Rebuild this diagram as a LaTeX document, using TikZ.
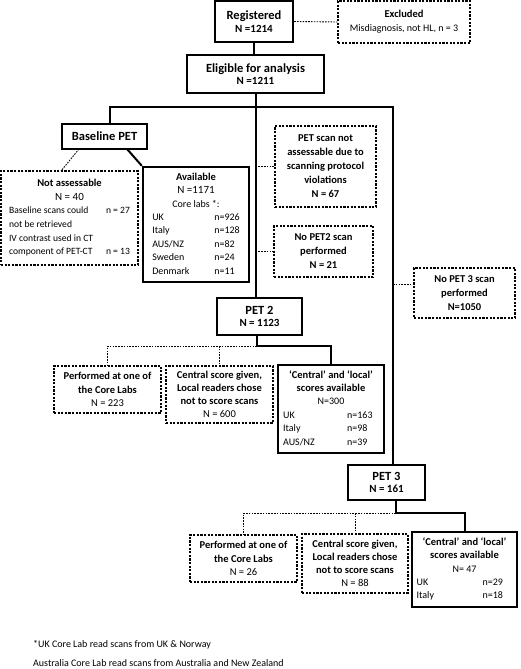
\documentclass[tikz,border=0pt]{standalone}
\usepackage{fontspec}
\setmainfont{Carlito}
\usepackage{array}
\begin{document}
\begin{tikzpicture}[x=1pt,y=-1pt,
  sbox/.style={draw, line width=2.4pt, inner sep=0pt, align=center, font=\fontsize{10}{13.4}\selectfont},
  dbox/.style={draw, line width=1.1pt, dash pattern=on 2.2pt off 1.4pt, inner sep=0pt, align=center, font=\fontsize{10}{13.6}\selectfont},
  sline/.style={line width=2pt},
  dline/.style={line width=0.9pt, dash pattern=on 1.6pt off 1.2pt},
  fn/.style={anchor=west, inner sep=0pt, font=\fontsize{10}{12}\selectfont}
]
\useasboundingbox (0,0) rectangle (520,669);

% boxes
\node[sbox, minimum width=78pt, minimum height=41pt] (reg) at (254,21.5)
  {{\fontsize{12.5}{15}\selectfont\bfseries Registered}\\[-1pt]{\fontsize{11}{13}\selectfont\bfseries N =1214}};
\node[dbox, minimum width=132pt, minimum height=42pt] (excl) at (404,22)
  {\raisebox{4pt}{\begin{tabular}{@{}c@{}}\fontsize{10.5}{13}\selectfont\bfseries Excluded\\ Misdiagnosis, not HL, n = 3\end{tabular}}};
\node[sbox, minimum width=137pt, minimum height=38pt] (elig) at (255.5,74)
  {{\fontsize{12.5}{15}\selectfont\bfseries Eligible for analysis}\\[-1pt]{\fontsize{11}{13}\selectfont\bfseries N =1211}};
\node[sbox, minimum width=85pt, minimum height=25pt] (base) at (104.5,136.5)
  {\fontsize{12.5}{15}\selectfont\bfseries Baseline PET};
\node[dbox, minimum width=137pt, minimum height=94pt, font=\fontsize{9.6}{13.6}\selectfont] (notass) at (69.5,218)
  {\begin{tabular}{@{}p{97pt}@{}l@{}}
   \multicolumn{2}{c}{\fontsize{10.5}{13.6}\selectfont\bfseries Not assessable}\\
   \multicolumn{2}{c}{\fontsize{11}{13.6}\selectfont N = 40}\\
   Baseline scans could & n = 27\\
   not be retrieved & \\
   IV contrast used in CT & \\
   component of PET-CT & n = 13
   \end{tabular}};
\node[sbox, minimum width=106pt, minimum height=115pt] (avail) at (196,224.5)
  {\begin{tabular}{@{}p{62pt}@{}l@{}}
   \multicolumn{2}{c}{\fontsize{10.5}{13.4}\selectfont\bfseries Available}\\
   \multicolumn{2}{c}{\fontsize{11}{13.4}\selectfont N =1171}\\
   \multicolumn{2}{c}{Core labs *:}\\
   UK & n=926\\
   Italy & n=128\\
   AUS/NZ & n=82\\
   Sweden & n=24\\
   Denmark & n=11
   \end{tabular}};
\node[dbox, minimum width=101pt, minimum height=81pt, font=\fontsize{10.5}{14}\selectfont\bfseries] (petna) at (325.5,166.5)
  {PET scan not\\assessable due to\\scanning protocol\\violations\\N = 67};
\node[dbox, minimum width=99pt, minimum height=51pt, font=\fontsize{10.5}{14}\selectfont\bfseries] (nopet2) at (323.5,251.5)
  {No PET2 scan\\performed\\N = 21};
\node[dbox, minimum width=101pt, minimum height=50pt, font=\fontsize{10.5}{14}\selectfont\bfseries] (nopet3) at (464.5,293)
  {No PET 3 scan\\performed\\N=1050};
\node[sbox, minimum width=85pt, minimum height=37pt] (pet2) at (259.5,316.5)
  {{\fontsize{12.5}{15}\selectfont\bfseries PET 2}\\[-1pt]{\fontsize{11}{13}\selectfont\bfseries N = 1123}};
\node[dbox, minimum width=107pt, minimum height=47pt, font=\fontsize{10.5}{13.2}\selectfont] (perf2) at (107.5,389.5)
  {\textbf{Performed at one of}\\\textbf{the Core Labs}\\N = 223};
\node[dbox, minimum width=107pt, minimum height=57pt, font=\fontsize{10.5}{13.2}\selectfont] (cent2) at (219.5,394.5)
  {\textbf{Central score given,}\\\textbf{Local readers chose}\\\textbf{not to score scans}\\N = 600};
\node[sbox, minimum width=106pt, minimum height=88pt] (cl2) at (331,409)
  {\begin{tabular}{@{}p{64pt}@{}l@{}}
   \multicolumn{2}{c}{\fontsize{10.5}{13.2}\selectfont\bfseries ‘Central’ and ‘local’}\\
   \multicolumn{2}{c}{\fontsize{10.5}{13.2}\selectfont\bfseries scores available}\\
   \multicolumn{2}{c}{N=300}\\
   UK & n=163\\
   Italy & n=98\\
   AUS/NZ & n=39
   \end{tabular}};
\node[sbox, minimum width=77pt, minimum height=35pt] (pet3) at (386.5,482.5)
  {{\fontsize{12.5}{15}\selectfont\bfseries PET 3}\\[-1pt]{\fontsize{11}{13}\selectfont\bfseries N = 161}};
\node[dbox, minimum width=107pt, minimum height=47pt, font=\fontsize{10.5}{13.2}\selectfont] (perf3) at (243.5,558.5)
  {\textbf{Performed at one of}\\\textbf{the Core Labs}\\N = 26};
\node[dbox, minimum width=106pt, minimum height=59pt, font=\fontsize{10.5}{13.2}\selectfont] (cent3) at (355,563.5)
  {\textbf{Central score given,}\\\textbf{Local readers chose}\\\textbf{not to score scans}\\N = 88};
\node[sbox, minimum width=105pt, minimum height=75pt] (cl3) at (464.5,569.5)
  {\begin{tabular}{@{}p{66pt}@{}l@{}}
   \multicolumn{2}{c}{\fontsize{10.5}{13.2}\selectfont\bfseries ‘Central’ and ‘local’}\\
   \multicolumn{2}{c}{\fontsize{10.5}{13.2}\selectfont\bfseries scores available}\\
   \multicolumn{2}{c}{N= 47}\\
   UK & n=29\\
   Italy & n=18
   \end{tabular}};

% footnotes
\node[fn] (fn1) at (33,645) {*UK Core Lab read scans from UK \& Norway};
\node[fn] (fn2) at (33,663.5) {Australia Core Lab read scans from Australia and New Zealand};

% connectors
\draw[dline] (reg.east) -- (excl.west);
\draw[sline] (reg.south) -- (reg.south |- elig.north);
\coordinate (hub) at (255.5,107);
\coordinate (hl) at (110,107);
\coordinate (hr) at (393,107);
\draw[sline] (elig.south) -- (hub);
\draw[sline] (hl |- base.north) -- (hl) -- (hr) -- (hr |- pet3.north);
\draw[sline] (hub) -- (hub |- pet2.north);
\draw[dline] (hub |- petna.west) -- (petna.west);
\draw[dline] (hub |- nopet2.west) -- (nopet2.west);
\coordinate (n3) at (393,284);
\draw[dline] (n3) -- (n3 -| nopet3.west);
% baseline split
\coordinate (bdl) at (79,149);
\coordinate (nat) at (61,171);
\draw[dline] (bdl) -- (nat);
\coordinate (bsl) at (127,149);
\draw[sline] (bsl) -- (avail.north west);
% PET2 fork
\coordinate (p2f) at (257,346);
\draw[sline] (p2f |- pet2.south) -- (p2f) -| (cl2.north);
\draw[dline] (p2f) -| (perf2.north);
\draw[dline] (cent2.north |- p2f) -- (cent2.north);
% PET3 fork
\coordinate (p3f) at (396,513);
\draw[sline] (p3f |- pet3.south) -- (p3f) -| (cl3.north);
\draw[dline] (p3f) -| (perf3.north);
\draw[dline] (cent3.north |- p3f) -- (cent3.north);
\end{tikzpicture}
\end{document}
